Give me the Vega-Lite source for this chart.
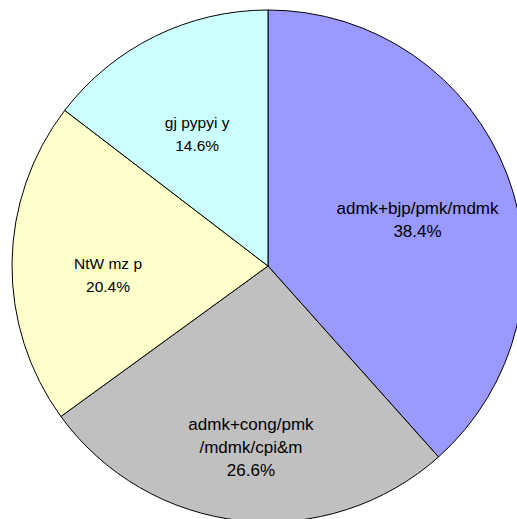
{
  "$schema": "https://vega.github.io/schema/vega-lite/v6.json",
  "width": 536,
  "height": 532,
  "autosize": "none",
  "padding": 0,
  "background": "white",
  "view": {"stroke": null},
  "data": {"values": [
    {"party": "admk+bjp/pmk/mdmk", "pct": 38.4, "label": "admk+bjp/pmk/mdmk\n38.4%", "k": 1},
    {"party": "admk+cong/pmk/mdmk/cpi&m", "pct": 26.6, "label": "admk+cong/pmk\n/mdmk/cpi&m\n26.6%", "k": 2},
    {"party": "NtW mz p", "pct": 20.4, "label": "NtW mz p\n20.4%", "k": 3},
    {"party": "gj pypyi y", "pct": 14.6, "label": "gj pypyi y\n14.6%", "k": 4}
  ]},
  "encoding": {
    "theta": {"field": "pct", "type": "quantitative", "stack": true},
    "order": {"field": "k", "type": "quantitative"}
  },
  "layer": [
    {
      "mark": {"type": "arc", "radius": 256, "stroke": "black", "strokeWidth": 1},
      "encoding": {
        "color": {
          "field": "party",
          "type": "nominal",
          "scale": {
            "domain": ["admk+bjp/pmk/mdmk", "admk+cong/pmk/mdmk/cpi&m", "NtW mz p", "gj pypyi y"],
            "range": ["#9999FF", "#C0C0C0", "#FFFFCC", "#CCFFFF"]
          },
          "legend": null
        }
      }
    },
    {
      "mark": {"type": "text", "radius": 160, "font": "Liberation Sans", "lineBreak": "\n", "lineHeight": 23, "fill": "black"},
      "encoding": {
        "text": {"field": "label", "type": "nominal"},
        "size": {"condition": {"test": "datum.k <= 2", "value": 17}, "value": 15.5}
      }
    }
  ]
}
